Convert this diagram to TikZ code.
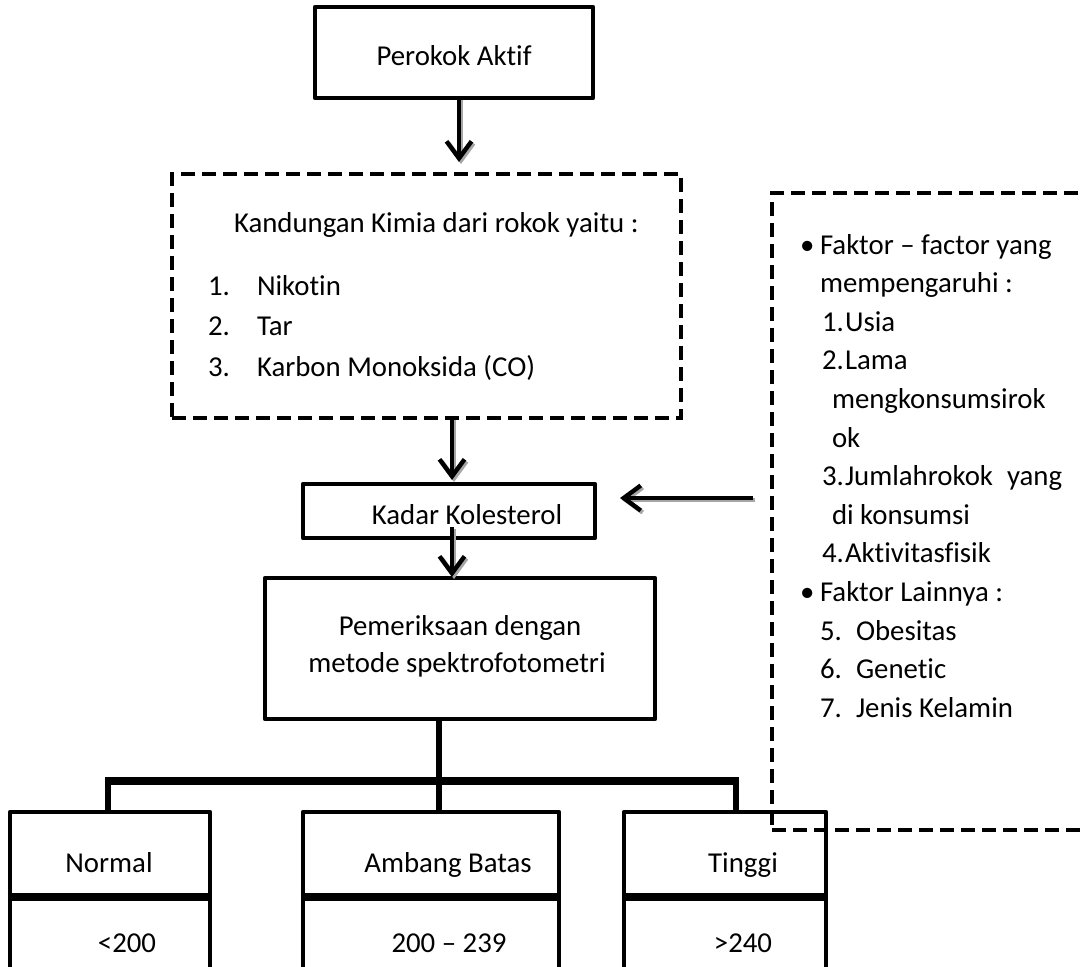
\documentclass[tikz,border=0pt]{standalone}
\usepackage{fontspec}
\setmainfont{Carlito}[Ligatures={NoCommon}]
\usetikzlibrary{arrows.meta}
\begin{document}
\begin{tikzpicture}[x=0.5pt,y=-0.5pt,
  every node/.style={font=\fontsize{14.4}{19.3}\selectfont, inner sep=0pt, outer sep=0pt},
  box/.style={draw, line width=2.3pt, line join=round},
  dbox/.style={draw, line width=2.4pt, dash pattern=on 7pt off 3.5pt},
  tb/.style={anchor=base},
  tl/.style={anchor=base west},
  arr/.style={line width=2.2pt, -{Straight Barb[length=8.5pt,width=12.5pt]},
    preaction={draw=black!35, line width=2.2pt, -{Straight Barb[length=8.5pt,width=12.5pt]}, transform canvas={shift={(1pt,-1pt)}}}},
  link/.style={line width=2.6pt},
  barline/.style={line width=4.2pt},
  divider/.style={line width=4.2pt, shorten <=-1.15pt, shorten >=-1.15pt}]
\useasboundingbox (0,0) rectangle (1080,966);
\begin{scope}
\clip (0,0) rectangle (1080,966);

% top box
\node[box, minimum width=139pt, minimum height=45.5pt] (perokok) at (454,52.5) {};
\node[tb] (perokokT) at (454,65) {Perokok Aktif};

% chemical content box
\node[dbox, minimum width=254.5pt, minimum height=122pt] (kimia) at (426.5,296) {};
\node[tl] (kimiaT) at (234,232) {Kandungan Kimia dari rokok yaitu :};
\node[tl] (k1n) at (208,295) {1.};
\node[tl] (k1) at (257,295) {Nikotin};
\node[tl] (k2n) at (208,335.5) {2.};
\node[tl] (k2) at (257,335.5) {Tar};
\node[tl] (k3n) at (208,376) {3.};
\node[tl] (k3) at (257,376) {Karbon Monoksida (CO)};

% cholesterol box
\node[box, minimum width=146pt, minimum height=27pt] (kadar) at (449,511) {};
\node[tb] (kadarT) at (467,524) {Kadar Kolesterol};

% examination box
\node[box, minimum width=195pt, minimum height=70.5pt] (pem) at (460,648.5) {};
\node[tb] (pemT1) at (460,635) {Pemeriksaan dengan};
\node[tb] (pemT2) at (457,672) {metode spektrofotometri};

% factors box
\node[dbox, minimum width=164pt, minimum height=318.5pt] (faktor) at (936,511.5) {};
\node[tl] (fb1) at (800,254) {•};
\node[tl] (f1) at (820,254) {Faktor – factor yang};
\node[tl] (f2) at (820,292.6) {mempengaruhi :};
\node[tl] (f3n) at (822,331.2) {1.};
\node[tl] (f3) at (845,331.2) {Usia};
\node[tl] (f4n) at (822,369.8) {2.};
\node[tl] (f4) at (845,369.8) {Lama};
\node[tl] (f5) at (832,408.4) {mengkonsumsirok};
\node[tl] (f6) at (832,447) {ok};
\node[tl] (f7n) at (822,485.6) {3.};
\node[tl] (f7) at (845,485.6) {Jumlahrokok\hspace{7pt}yang};
\node[tl] (f8) at (832,524.2) {di konsumsi};
\node[tl] (f9n) at (822,562.8) {4.};
\node[tl] (f9) at (845,562.8) {Aktivitasfisik};
\node[tl] (fb2) at (800,601.4) {•};
\node[tl] (f10) at (820,601.4) {Faktor Lainnya :};
\node[tl] (f11n) at (820,640) {5.};
\node[tl] (f11) at (856,640) {Obesitas};
\node[tl] (f12n) at (820,678.6) {6.};
\node[tl] (f12) at (856,678.6) {Genetic};
\node[tl] (f13n) at (820,717.2) {7.};
\node[tl] (f13) at (856,717.2) {Jenis Kelamin};

% result boxes
\node[box, minimum width=100pt, minimum height=51.5pt] (normalV) at (110,948.5) {};
\node[box, minimum width=100pt, minimum height=42.5pt] (normalH) at (110,854.5) {};
\node[box, minimum width=128pt, minimum height=51.5pt] (ambangV) at (431,948.5) {};
\node[box, minimum width=128pt, minimum height=42.5pt] (ambangH) at (431,854.5) {};
\node[box, minimum width=101pt, minimum height=51.5pt] (tinggiV) at (725,948.5) {};
\node[box, minimum width=101pt, minimum height=42.5pt] (tinggiH) at (725,854.5) {};
\draw[divider] (normalH.south west) -- (normalH.south east);
\draw[divider] (ambangH.south west) -- (ambangH.south east);
\draw[divider] (tinggiH.south west) -- (tinggiH.south east);
\node[tb] (normalT) at (109,872) {Normal};
\node[tb] (normalN) at (127,952) {<200};
\node[tb] (ambangT) at (448,872) {Ambang Batas};
\node[tb] (ambangN) at (449,952) {200 – 239};
\node[tb] (tinggiT) at (743,872) {Tinggi};
\node[tb] (tinggiN) at (743,952) {>240};

% connectors
\coordinate (c459) at (459,0);
\coordinate (c452) at (452,0);
\coordinate (c439) at (439,0);
\coordinate (kstart) at (452,527);
\coordinate (rstart) at (753,498);
\coordinate (rend) at (620,498);
\coordinate (barL) at (108,781);
\coordinate (barM) at (439,781);
\coordinate (barR) at (736,781);

\draw[arr] (perokok.south -| c459) -- ([yshift=6pt]kimia.north -| c459);
\draw[arr] (kimia.south -| c452) -- ([yshift=2pt]kadar.north -| c452);
\draw[arr] (rstart) -- (rend);
\draw[arr] (kstart) -- ([yshift=0.5pt]pem.north -| c452);
\draw[link] (pem.south -| c439) -- (barM);
\draw[barline] ([xshift=-1.3pt]barL) -- ([xshift=1.3pt]barR);
\draw[link] (barL) -- (normalH.north -| barL);
\draw[link] (barM) -- (ambangH.north -| barM);
\draw[link] (barR) -- (tinggiH.north -| barR);
\end{scope}
\end{tikzpicture}
\end{document}
